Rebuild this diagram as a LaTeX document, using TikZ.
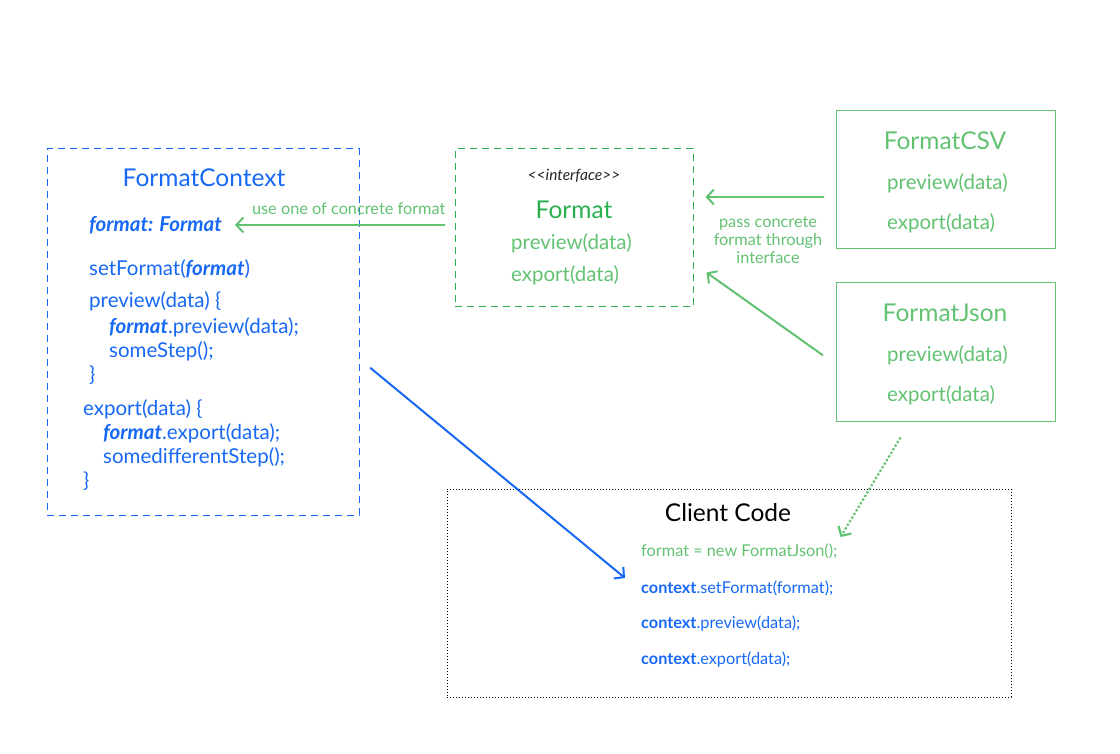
\documentclass[tikz,border=0pt]{standalone}
\usepackage{fontspec}
\setmainfont{Lato}
\usetikzlibrary{arrows.meta,positioning,calc}
\definecolor{ctxblue}{RGB}{22,104,245}
\definecolor{fmtgreen}{RGB}{40,176,78}
\definecolor{lgreen}{RGB}{98,194,114}
\tikzset{
	box/.style={draw, line width=1pt, inner sep=0pt},
	code/.style={anchor=west, inner sep=1pt, font=\fontsize{20.5}{22}\selectfont},
	small/.style={font=\fontsize{16.3}{18}\selectfont},
	title/.style={font=\fontsize{24.5}{26}\selectfont},
	barb/.style={-{Straight Barb[length=7pt,width=15pt]}, line width=2pt, line cap=round},
}
\newcommand{\fv}{\textbf{\textit{format}}}
\newcommand{\cx}{\textbf{context}}
\begin{document}
\begin{tikzpicture}[x=1pt, y=-1pt, line join=round]
	
	\useasboundingbox (0,0) rectangle (1120,754);
	
	% boxes
	\node[box, ctxblue, dash pattern=on 7pt off 5pt, minimum width=312pt, minimum height=366pt] (context) at (203,332) {};
	\node[box, fmtgreen, dash pattern=on 7pt off 5pt, minimum width=238pt, minimum height=158pt] (format) at (574,228) {};
	\node[box, lgreen, minimum width=219pt, minimum height=138pt] (csv) at (945.5,180) {};
	\node[box, lgreen, minimum width=219pt, minimum height=138pt] (json) at (945.5,352) {};
	\node[box, black, dotted, minimum width=564pt, minimum height=208pt] (client) at (729,593) {};
	
	% FormatContext
	\node[title, ctxblue] (ctxname) at (204,178) {FormatContext};
	\node[code, ctxblue] (field) at (88,225) {\textbf{\textit{format: Format}}};
	\node[code, ctxblue] (setfmt) at (88,269) {setFormat(\fv)};
	\node[code, ctxblue] (prev) at (88,301) {preview(data) \{};
	\node[code, ctxblue] (prevcall) at (108,327) {\fv.preview(data);};
	\node[code, ctxblue] (prevstep) at (108,351) {someStep();};
	\node[code, ctxblue] (prevend) at (88,375) {\}};
	\node[code, ctxblue] (expo) at (82,409) {export(data) \{};
	\node[code, ctxblue] (expocall) at (102,433) {\fv.export(data);};
	\node[code, ctxblue] (expostep) at (102,457) {somedifferentStep();};
	\node[code, ctxblue] (expoend) at (82,481) {\}};
	
	% Format
	\node[font=\fontsize{15.5}{17}\selectfont\itshape, text=black!85] (iface) at (574,176) {{<}{<}interface{>}{>}};
	\node[title, fmtgreen] (fmtname) at (574,210) {Format};
	\node[code, lgreen] (fmtprev) at (510,243) {preview(data)};
	\node[code, lgreen] (fmtexp) at (510,275) {export(data)};
	
	% concrete formats
	\node[title, lgreen] (csvname) at (945,141) {FormatCSV};
	\node[code, lgreen] (csvprev) at (886,183) {preview(data)};
	\node[code, lgreen] (csvexp) at (886,223) {export(data)};
	\node[title, lgreen] (jsonname) at (945,313) {FormatJson};
	\node[code, lgreen] (jsonprev) at (886,355) {preview(data)};
	\node[code, lgreen] (jsonexp) at (886,395) {export(data)};
	
	% client code
	\node[title, black] (clientname) at (728,513) {Client Code};
	\node[code, small, lgreen] (newjson) at (640,551) {format = new FormatJson();};
	\node[code, small, ctxblue] (callset) at (640,588) {\cx.setFormat(format);};
	\node[code, small, ctxblue] (callprev) at (640,624) {\cx.preview(data);};
	\node[code, small, ctxblue] (callexp) at (640,660) {\cx.export(data);};
	
	% connectors
	\draw[barb, lgreen] ([xshift=-10pt]format.west |- field) -- node[above=6pt, xshift=9pt, small] {use one of concrete format} ([xshift=12pt]field.east);
	\coordinate (csvout) at ([xshift=-12pt,yshift=-17pt]csv.west);
	\draw[barb, lgreen] (csvout) -- ([xshift=12pt]format.east |- csvout);
	\node[small, lgreen, align=center, inner sep=0pt] (passlbl) at (768,240) {pass concrete\\format through\\interface};
	\draw[barb, lgreen] ([xshift=-13pt,yshift=-3pt]json.west) -- ([xshift=13pt,yshift=35pt]format.south east);
	\draw[barb, ctxblue] ([xshift=11pt,yshift=-36pt]context.east) -- ([xshift=-15pt,yshift=10pt]callset.west);
	\draw[barb, lgreen, line width=2.2pt, dotted, line cap=butt] ([xshift=-45pt,yshift=-16pt]json.south) -- ([xshift=2pt,yshift=14pt]newjson.east);
	
\end{tikzpicture}
\end{document}
